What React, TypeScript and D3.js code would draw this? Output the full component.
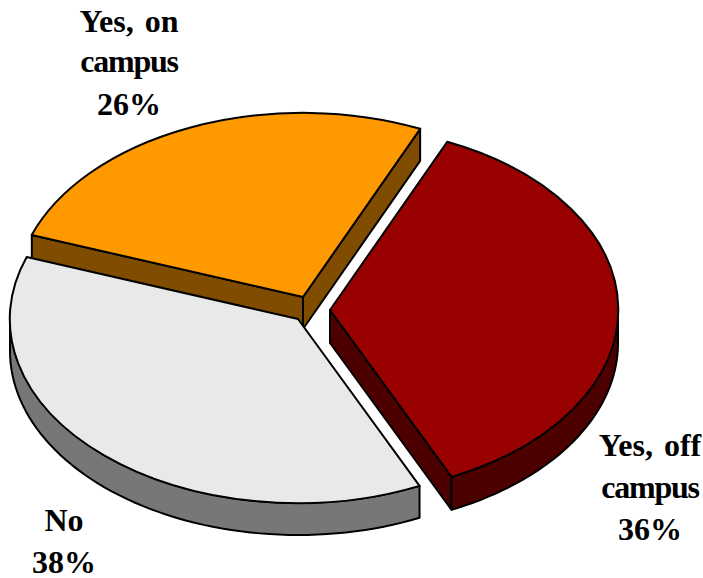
import React from "react";
import * as d3 from "d3";

const categories = ["Yes, off campus", "No", "Yes, on campus"];
const shares = [36.4, 37.4, 26.2];
const startDegrees = 24;

const topColors = ["#990000", "#e9e9e9", "#ff9900"];
const sideColors = ["#4d0000", "#777777", "#804d00"];
const centers: [number, number][] = [[330, 310], [298, 319], [303, 297]];
const radiiX = [288, 288, 288];
const radiiY = [184, 184, 184];
const depths = [33, 32, 32];

const labelLines = [["Yes, off", "campus", "36%"], ["No", "38%"], ["Yes, on", "campus", "26%"]];
const labelX = [650, 64, 129];
const labelY = [[456, 498, 540], [531, 573], [32, 72, 115]];

const arcs = d3.pie<number>().sort(null).startAngle((startDegrees * Math.PI) / 180).endAngle(((startDegrees + 360) * Math.PI) / 180)(shares);

export default function App() {
  const stroke = { stroke: "#000", strokeWidth: 2, strokeLinejoin: "round" as const };
  const drawOrder = [2, 1, 0];
  return (
    <svg width={703} height={578} style={{ position: "absolute", left: 0, top: 0, background: "#fff" }}>
      {drawOrder.map((i) => {
        const arc = arcs[i];
        const [cx, cy] = centers[i];
        const rx = radiiX[i];
        const ry = radiiY[i];
        const depth = depths[i];
        const pt = (a: number, dy = 0): [number, number] => [cx + rx * Math.sin(a), cy - ry * Math.cos(a) + dy];
        const line = d3.line<[number, number]>();
        // Curved outer wall: only the part of the rim facing the viewer.
        const lo = Math.max(arc.startAngle, Math.PI / 2);
        const hi = Math.min(arc.endAngle, (3 * Math.PI) / 2);
        const rim = lo < hi ? d3.range(0, 61).map((k) => lo + ((hi - lo) * k) / 60) : [];
        const wall = rim.length ? line([...rim.map((a) => pt(a)), ...rim.slice().reverse().map((a) => pt(a, depth))])! + "Z" : "";
        const cut = (a: number) => line([[cx, cy], pt(a), pt(a, depth), [cx, cy + depth]])! + "Z";
        const top = d3.arc<unknown>().innerRadius(0).outerRadius(1).startAngle(arc.startAngle).endAngle(arc.endAngle)(null as never)!;
        const cuts = i === 0 ? [arc.endAngle] : i === 2 ? [arc.startAngle, arc.endAngle] : [];
        return (
          <g key={categories[i]}>
            {cuts.map((a) => <path key={a} d={cut(a)} fill={sideColors[i]} {...stroke} />)}
            {wall && <path d={wall} fill={sideColors[i]} {...stroke} />}
            <path d={top} transform={`translate(${cx},${cy}) scale(${rx},${ry})`} fill={topColors[i]} vectorEffect="non-scaling-stroke" {...stroke} />
          </g>
        );
      })}
      {labelLines.map((lines, i) => (
        <g key={i}>
          {lines.map((t, j) => (
            <text
              key={j}
              x={labelX[i]}
              y={labelY[i][j]}
              textAnchor="middle"
              fontFamily="'Liberation Serif', serif"
              fontWeight="bold"
              fontSize={32}
              fill="#000"
              letterSpacing={t === "campus" ? -1.2 : 0}
              wordSpacing={3}
            >
              {t}
            </text>
          ))}
        </g>
      ))}
    </svg>
  );
}
